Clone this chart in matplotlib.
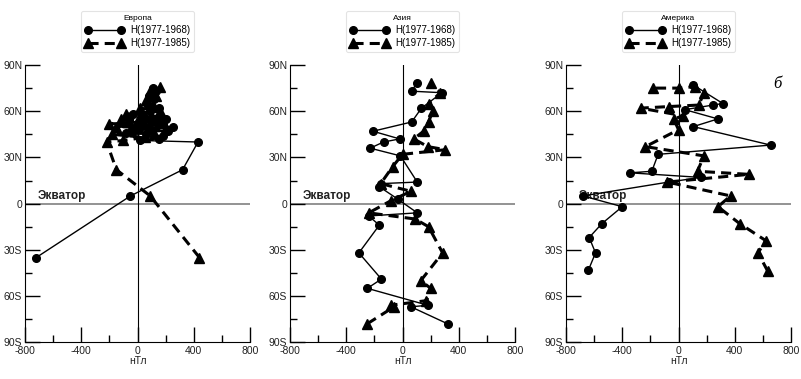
import numpy as np
import matplotlib
matplotlib.use("Agg")
from matplotlib import pyplot as plt
from matplotlib.ticker import MultipleLocator

plt.rcParams["font.family"] = ["Liberation Sans", "DejaVu Sans"]

regions = ["Европа", "Азия", "Америка"]
label_68 = "H(1977-1968)"
label_85 = "H(1977-1985)"

# Europe
eu_lat_68 = [-35, 5, 22, 40, 41, 42, 44, 45, 46, 47, 48, 49, 50, 51, 52, 53, 54, 55,
             56, 57, 58, 60, 62, 65, 68, 70, 73, 75]
eu_val_68 = [-720, -50, 320, 430, 20, 150, 180, 60, -80, 220, 100, -20, 250, 40, 180, -60,
             120, 200, 30, 160, -30, 90, 150, 70, 120, 80, 130, 110]
eu_lat_85 = [-35, 5, 22, 40, 41, 43, 45, 46, 48, 49, 50, 51, 52, 53, 54, 55, 56, 57, 58,
             60, 62, 64, 67, 70, 73, 76]
eu_val_85 = [440, 90, -150, -220, -100, 50, -180, 120, -50, 200, -150, 80, -200, 150, 0,
             -120, 100, 50, -80, 160, 20, 110, 60, 130, 90, 160]

# Asia
as_lat_68 = [-78, -67, -66, -55, -49, -32, -14, -8, -6, 3, 11, 13, 14, 31, 36, 40, 42,
             47, 53, 62, 72, 73, 78]
as_val_68 = [320, 60, 180, -250, -150, -310, -165, -240, 105, -35, -165, -150, 105, -15,
             -230, -135, -20, -210, 65, 135, 280, 65, 100]
as_lat_85 = [-78, -67, -66, -63, -55, -50, -32, -15, -10, -6, 2, 8, 13, 24, 32, 35, 37,
             42, 47, 53, 60, 65, 72, 78]
as_val_85 = [-250, -60, -85, 170, 200, 130, 285, 185, 90, -240, -80, 60, -155, -70, 0,
             305, 180, 80, 150, 185, 215, 185, 270, 200]

# America
am_lat_68 = [-43, -32, -22, -13, -2, 5, 14, 17, 20, 21, 32, 38, 50, 55, 61, 64, 65, 77]
am_val_68 = [-640, -590, -635, -545, -400, -680, -70, 160, -345, -190, -145, 655, 105,
             280, 45, 245, 315, 105]
am_lat_85 = [-44, -32, -24, -13, -2, 5, 14, 19, 21, 31, 37, 48, 55, 57, 62, 63, 64, 72,
             76, 75, 75]
am_val_85 = [635, 565, 620, 435, 280, 370, -80, 500, 135, 180, -235, 0, -35, 35, -270,
             -70, 145, 180, 120, 0, -180]

data = [
    (eu_val_68, eu_lat_68, eu_val_85, eu_lat_85),
    (as_val_68, as_lat_68, as_val_85, as_lat_85),
    (am_val_68, am_lat_68, am_val_85, am_lat_85),
]

lat_ticks = [90, 60, 30, 0, -30, -60, -90]
lat_labels = ["90N", "60N", "30N", "0", "30S", "60S", "90S"]
x_ticks = [-800, -400, 0, 400, 800]

fig = plt.figure(figsize=(8.01, 3.79), dpi=100)
lefts = [0.0312, 0.362, 0.7066]

for i, (v68, l68, v85, l85) in enumerate(data):
    ax = fig.add_axes([lefts[i], 0.097, 0.281, 0.7315])
    ax.axhline(0, color="#8a8a8a", lw=1.3, zorder=1)
    ax.axvline(0, color="black", lw=0.8, zorder=1)
    ax.plot(v68, l68, "-o", color="black", lw=1.0, ms=5.5, label=label_68, zorder=3)
    ax.plot(v85, l85, "--^", color="black", lw=2.2, ms=7, dashes=(3.3, 2),
            label=label_85, zorder=3)
    ax.text(-710, 3, "Экватор", fontsize=8.5, fontweight="bold", color="#222222", zorder=2)

    ax.set_xlim(-800, 800)
    ax.set_ylim(-90, 90)
    for s in ["top", "right"]:
        ax.spines[s].set_visible(False)

    ax.set_yticks(lat_ticks)
    ax.set_yticklabels(lat_labels)
    ax.yaxis.set_minor_locator(MultipleLocator(15))
    ax.set_xticks(x_ticks)
    ax.set_xticklabels([str(t) for t in x_ticks])
    ax.xaxis.set_minor_locator(MultipleLocator(200))
    ax.tick_params(which="major", direction="in", length=10.5, width=1.0,
                   labelsize=7.5, labelcolor="#222222")
    ax.tick_params(axis="y", which="major", pad=2)
    ax.tick_params(axis="x", which="major", pad=3)
    ax.tick_params(which="minor", direction="in", length=5, width=1.0)
    ax.set_xlabel("нТл", fontsize=7.5, color="#222222", labelpad=0)

    leg = ax.legend(loc="lower center", bbox_to_anchor=(0.5, 1.03), title=regions[i],
                    fontsize=7, title_fontsize=6, numpoints=2, handlelength=4,
                    frameon=True, fancybox=True, borderpad=0.4, labelspacing=0.3,
                    handletextpad=0.6)
    leg.get_frame().set_edgecolor("#dddddd")
    leg.get_frame().set_linewidth(0.8)

    if i == 2:
        ax.text(0.96, 0.93, "б", transform=ax.transAxes, fontsize=12,
                fontstyle="italic", family=["Liberation Serif", "DejaVu Serif"],
                ha="right", va="center")

fig.savefig("out.png", dpi=100)
